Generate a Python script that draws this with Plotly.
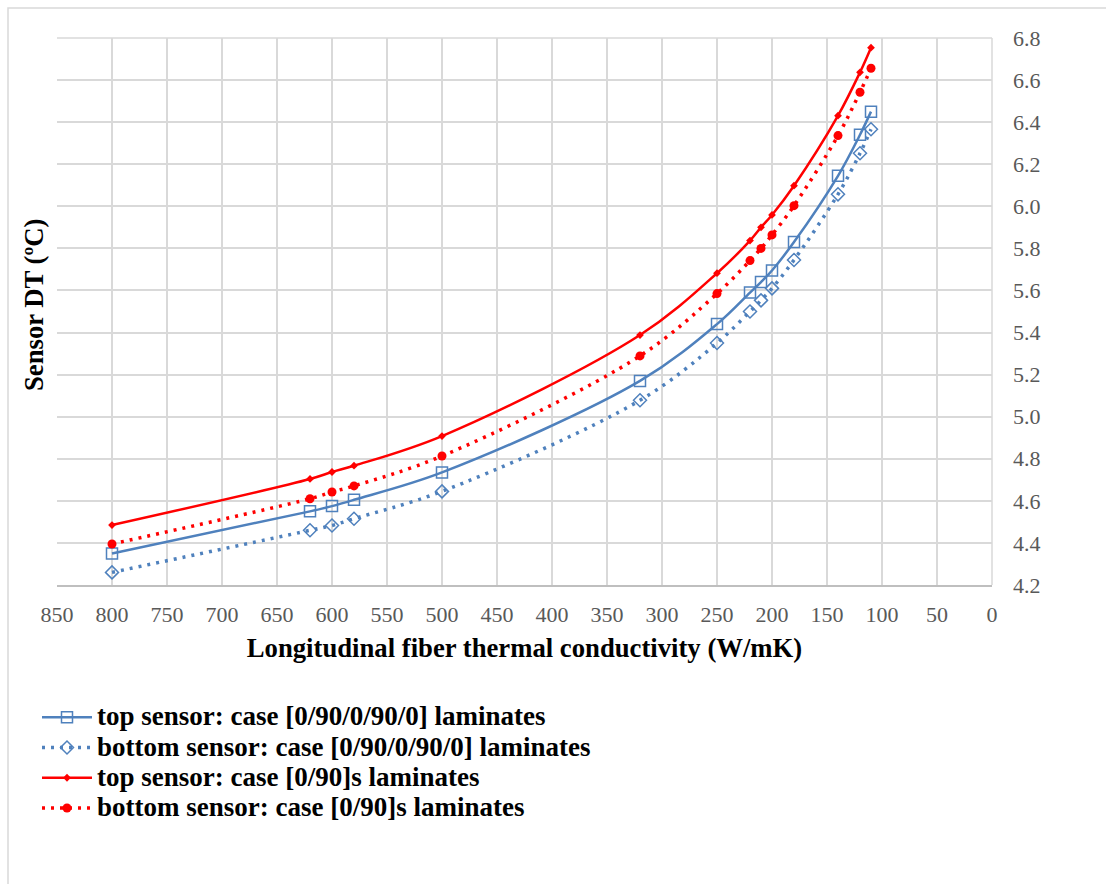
import plotly.graph_objects as go

# Data
conductivity = [800, 620, 600, 580, 500, 320, 250, 220, 210, 200, 180, 140, 120, 110]
top_05 = [4.35, 4.55, 4.575, 4.605, 4.735, 5.17, 5.44, 5.59, 5.64, 5.695, 5.83, 6.145, 6.34, 6.45]
bottom_05 = [4.26, 4.46, 4.483, 4.515, 4.645, 5.078, 5.35, 5.50, 5.553, 5.61, 5.745, 6.057, 6.252, 6.366]
top_s = [4.485, 4.704, 4.737, 4.767, 4.908, 5.388, 5.682, 5.837, 5.90, 5.959, 6.098, 6.431, 6.637, 6.754]
bottom_s = [4.395, 4.61, 4.642, 4.671, 4.813, 5.289, 5.585, 5.742, 5.80, 5.864, 6.003, 6.336, 6.542, 6.656]

names = [
    "top sensor: case [0/90/0/90/0] laminates",
    "bottom sensor: case [0/90/0/90/0] laminates",
    "top sensor: case [0/90]s laminates",
    "bottom sensor: case [0/90]s laminates",
]

BLUE = "#4f81bd"
RED = "#ff0000"
SERIF = "Liberation Serif, Times New Roman, serif"


def legend_label(s):
    return "<span style='font-size:27px'><b>" + s + "</b></span>"


fig = go.Figure()
fig.add_trace(go.Scatter(
    x=conductivity, y=top_05, name=legend_label(names[0]), mode="lines+markers",
    line=dict(color=BLUE, width=2.5, shape="spline"),
    marker=dict(symbol="square-open", size=11, color=BLUE, line=dict(width=1.5)),
))
fig.add_trace(go.Scatter(
    x=conductivity, y=bottom_05, name=legend_label(names[1]), mode="lines+markers",
    line=dict(color=BLUE, width=3.5, shape="spline", dash="3px,6px"),
    marker=dict(symbol="diamond-open", size=10, color=BLUE, line=dict(width=1.5)),
))
fig.add_trace(go.Scatter(
    x=conductivity, y=top_s, name=legend_label(names[2]), mode="lines+markers",
    line=dict(color=RED, width=2.5, shape="spline"),
    marker=dict(symbol="diamond", size=6, color=RED),
))
fig.add_trace(go.Scatter(
    x=conductivity, y=bottom_s, name=legend_label(names[3]), mode="lines+markers",
    line=dict(color=RED, width=3.5, shape="spline", dash="3px,6px"),
    marker=dict(symbol="circle", size=9, color=RED),
))

L, R, T, B = 57, 114, 38, 299
W, H = 1106, 884
pw, ph = W - L - R, H - T - B


def px_x(p):
    return (p - L) / pw


def px_y(p):
    return (H - B - p) / ph


fig.update_layout(
    width=W, height=H,
    margin=dict(l=L, r=R, t=T, b=B, pad=0),
    paper_bgcolor="white", plot_bgcolor="white",
    font=dict(family=SERIF, color="#000000"),
    showlegend=True,
    legend=dict(
        x=px_x(37), y=px_y(697), xanchor="left", yanchor="top",
        font=dict(family=SERIF, size=21, color="#000000"),
        itemwidth=50, tracegroupgap=0, bgcolor="rgba(0,0,0,0)",
    ),
    xaxis=dict(
        range=[850, 0], tick0=0, dtick=50, showgrid=True,
        gridcolor="#d9d9d9", gridwidth=1.5, zeroline=False,
        showline=True, linecolor="#bfbfbf", linewidth=1.5,
        ticks="", ticklabelstandoff=9,
        tickfont=dict(family=SERIF, size=22, color="#595959"),
        title=dict(text="<b>Longitudinal fiber thermal conductivity (W/mK)</b>",
                   font=dict(family=SERIF, size=26.7, color="#000000"), standoff=12),
    ),
    yaxis=dict(
        range=[4.2, 6.8], tick0=4.2, dtick=0.2, tickformat=".1f",
        side="right", showgrid=True, gridcolor="#d9d9d9", gridwidth=1.5,
        zeroline=False, showline=False, ticks="", ticklabelstandoff=20,
        tickfont=dict(family=SERIF, size=22, color="#595959"),
    ),
    annotations=[dict(
        text="<b>Sensor DT (ºC)</b>", textangle=-90,
        xref="paper", yref="paper", x=px_x(34), y=px_y(305),
        xanchor="center", yanchor="middle", showarrow=False,
        font=dict(family=SERIF, size=26.7, color="#000000"),
    )],
    shapes=[
        dict(type="rect", xref="paper", yref="paper",
             x0=px_x(8), x1=px_x(1120), y0=px_y(900), y1=px_y(8),
             line=dict(color="#d9d9d9", width=1.5), fillcolor="rgba(0,0,0,0)", layer="below"),
        dict(type="line", xref="paper", yref="paper",
             x0=0, x1=1, y0=1, y1=1, line=dict(color="#d9d9d9", width=1.5), layer="below"),
        dict(type="line", xref="paper", yref="paper",
             x0=1, x1=1, y0=0, y1=1, line=dict(color="#d9d9d9", width=1.5), layer="below"),
    ],
)

fig.write_html("out.html")
